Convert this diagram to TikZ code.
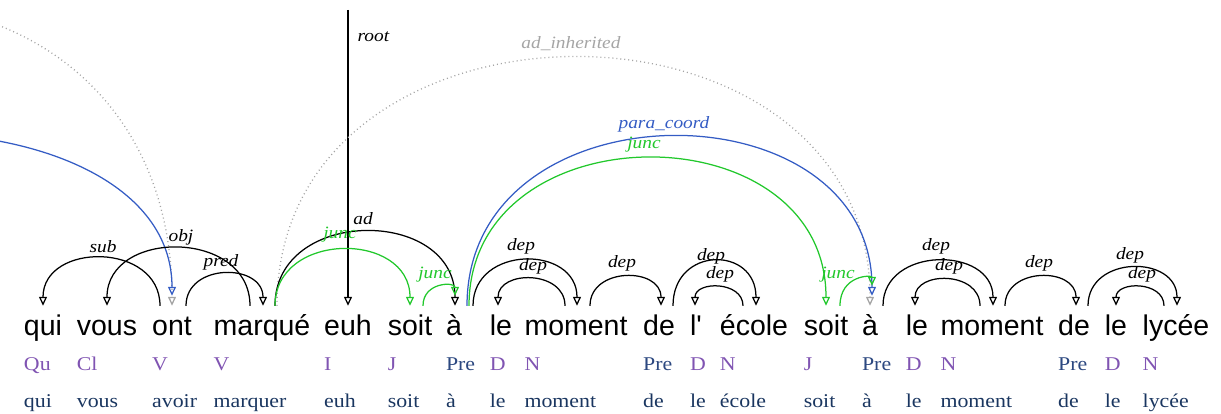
\documentclass[tikz,border=0pt]{standalone}
\usepackage{fontspec}
\usetikzlibrary{arrows.meta}
\newfontfamily\wordfont{Liberation Sans}
\newfontfamily\rowfont[FakeStretch=1.12]{Liberation Serif}
\definecolor{tagc}{RGB}{128,84,178}
\definecolor{prec}{RGB}{44,72,128}
\definecolor{lemc}{RGB}{26,54,96}
\definecolor{juncc}{RGB}{34,200,44}
\definecolor{parac}{RGB}{52,92,196}
\definecolor{inhc}{RGB}{165,165,165}
\tikzset{
  word/.style={font=\wordfont\fontsize{28.5}{30}\selectfont, inner sep=0pt, text height=29pt, text depth=7pt, anchor=base},
  tagtxt/.style={font=\rowfont\fontsize{19.5}{20}\selectfont, text=tagc, inner sep=0pt, anchor=base west},
  pretxt/.style={tagtxt, text=prec},
  lemtxt/.style={font=\rowfont\fontsize{19.5}{20}\selectfont, text=lemc, inner sep=0pt, anchor=base west},
  lbl/.style={font=\rowfont\itshape\fontsize{17.3}{18}\selectfont, inner sep=0pt, anchor=base},
  arc/.style={line width=1.25pt, -{Triangle[open,length=9pt,width=8pt]}},
  inh/.style={arc, color=inhc, line width=1.3pt, dash pattern=on 1pt off 3pt},
}
\begin{document}
\begin{tikzpicture}[x=1pt,y=-1pt]
  \useasboundingbox (0,0) rectangle (1221,414);
  \clip (0,0) rectangle (1221,414);
  % words
  \node[word] (qui) at (43,335) {qui};
  \node[word] (vous) at (107,335) {vous};
  \node[word] (ont) at (172,335) {ont};
  \node[word] (marque) at (262,335) {marqué};
  \node[word] (euh) at (348,335) {euh};
  \node[word] (soitA) at (410,335) {soit};
  \node[word] (aA) at (454,335) {à};
  \node[word] (leA) at (501,335) {le};
  \node[word] (momentA) at (576,335) {moment};
  \node[word] (deA) at (659,335) {de};
  \node[word] (lA) at (696,335) {l'};
  \node[word] (ecole) at (754,335) {école};
  \node[word] (soitB) at (826,335) {soit};
  \node[word] (aB) at (870,335) {à};
  \node[word] (leB) at (917,335) {le};
  \node[word] (momentB) at (992,335) {moment};
  \node[word] (deB) at (1074,335) {de};
  \node[word] (leC) at (1116,335) {le};
  \node[word] (lycee) at (1176,335) {lycée};
  % categories
  \node[tagtxt] (tQu) at ([yshift=-35pt]qui.base west) {Qu};
  \node[tagtxt] (tCl) at ([yshift=-35pt]vous.base west) {Cl};
  \node[tagtxt] (tV) at ([yshift=-35pt]ont.base west) {V};
  \node[tagtxt] (tVb) at ([yshift=-35pt]marque.base west) {V};
  \node[tagtxt] (tI) at ([yshift=-35pt]euh.base west) {I};
  \node[tagtxt] (tJ) at ([yshift=-35pt]soitA.base west) {J};
  \node[pretxt] (tPre) at ([yshift=-35pt]aA.base west) {Pre};
  \node[tagtxt] (tD) at ([yshift=-35pt]leA.base west) {D};
  \node[tagtxt] (tN) at ([yshift=-35pt]momentA.base west) {N};
  \node[pretxt] (tPreb) at ([yshift=-35pt]deA.base west) {Pre};
  \node[tagtxt] (tDb) at ([yshift=-35pt]lA.base west) {D};
  \node[tagtxt] (tNb) at ([yshift=-35pt]ecole.base west) {N};
  \node[tagtxt] (tJb) at ([yshift=-35pt]soitB.base west) {J};
  \node[pretxt] (tPrec) at ([yshift=-35pt]aB.base west) {Pre};
  \node[tagtxt] (tDc) at ([yshift=-35pt]leB.base west) {D};
  \node[tagtxt] (tNc) at ([yshift=-35pt]momentB.base west) {N};
  \node[pretxt] (tPred) at ([yshift=-35pt]deB.base west) {Pre};
  \node[tagtxt] (tDd) at ([yshift=-35pt]leC.base west) {D};
  \node[tagtxt] (tNd) at ([yshift=-35pt]lycee.base west) {N};
  % lemmas
  \node[lemtxt] (mqui) at ([yshift=-72pt]qui.base west) {qui};
  \node[lemtxt] (mvous) at ([yshift=-72pt]vous.base west) {vous};
  \node[lemtxt] (mavoir) at ([yshift=-72pt]ont.base west) {avoir};
  \node[lemtxt] (mmarquer) at ([yshift=-72pt]marque.base west) {marquer};
  \node[lemtxt] (meuh) at ([yshift=-72pt]euh.base west) {euh};
  \node[lemtxt] (msoit) at ([yshift=-72pt]soitA.base west) {soit};
  \node[lemtxt] (ma) at ([yshift=-72pt]aA.base west) {à};
  \node[lemtxt] (mle) at ([yshift=-72pt]leA.base west) {le};
  \node[lemtxt] (mmoment) at ([yshift=-72pt]momentA.base west) {moment};
  \node[lemtxt] (mde) at ([yshift=-72pt]deA.base west) {de};
  \node[lemtxt] (mleb) at ([yshift=-72pt]lA.base west) {le};
  \node[lemtxt] (mecole) at ([yshift=-72pt]ecole.base west) {école};
  \node[lemtxt] (msoitb) at ([yshift=-72pt]soitB.base west) {soit};
  \node[lemtxt] (mab) at ([yshift=-72pt]aB.base west) {à};
  \node[lemtxt] (mlec) at ([yshift=-72pt]leB.base west) {le};
  \node[lemtxt] (mmomentb) at ([yshift=-72pt]momentB.base west) {moment};
  \node[lemtxt] (mdeb) at ([yshift=-72pt]deB.base west) {de};
  \node[lemtxt] (mled) at ([yshift=-72pt]leC.base west) {le};
  \node[lemtxt] (mlycee) at ([yshift=-72pt]lycee.base west) {lycée};
  % arcs coming from outside the picture
  \coordinate (offblue) at (-365,306);
  \coordinate (offgrey) at (-400,306);
  \coordinate (rtop) at (348,10);
  \draw[inh] (offgrey) .. controls +(0,-400) and +(0,-400) .. (ont.north);
  \draw[arc,parac] (offblue) .. controls +(0,-227) and +(0,-217) .. ([yshift=10pt]ont.north);
  \draw[arc] (rtop) -- (euh.north) node[lbl,anchor=base west] at (357,42) {root};
  % qui vous ont marqué
  \draw[arc] ([xshift=-12pt]ont.north) .. controls +(0,-64) and +(0,-64) .. (qui.north) node[lbl] at (103,252) {sub};
  \draw[arc] ([xshift=-12pt]marque.north) .. controls +(0,-77) and +(0,-77) .. (vous.north) node[lbl] at (181,241) {obj};
  \draw[arc] ([xshift=14pt]ont.north) .. controls +(0,-43) and +(0,-43) .. ([xshift=1pt]marque.north) node[lbl] at (221,266) {pred};
  % euh soit à
  \draw[inh] ([xshift=15pt]marque.north) .. controls +(0,-331) and +(0,-331) .. (aB.north) node[lbl,text=inhc] at (571,49) {ad\_inherited};
  \draw[arc] ([xshift=13pt]marque.north) .. controls +(0,-99) and +(0,-99) .. ([xshift=1pt]aA.north) node[lbl] at (363,225) {ad};
  \draw[arc,juncc] ([xshift=13pt]marque.north) .. controls +(0,-75) and +(0,-75) .. (soitA.north) node[lbl] at (340,239) {junc};
  \draw[arc,juncc] ([xshift=13pt]soitA.north) .. controls +(0,-24) and +(0,-14) .. ([xshift=1pt,yshift=10pt]aA.north) node[lbl] at (435,278) {junc};
  \draw[arc,parac] ([xshift=13pt]aA.north) .. controls +(0,-224) and +(0,-214) .. ([xshift=2pt,yshift=10pt]aB.north) node[lbl] at (664,129) {para\_coord};
  \draw[arc,juncc] ([xshift=15pt]aA.north) .. controls +(0,-197) and +(0,-197) .. (soitB.north) node[lbl] at (644,149) {junc};
  \draw[arc,juncc] ([xshift=14pt]soitB.north) .. controls +(0,-31) and +(0,-11) .. ([xshift=2pt,yshift=20pt]aB.north) node[lbl] at (838,278) {junc};
  % le moment de l' école
  \draw[arc] ([xshift=19pt]aA.north) .. controls +(0,-61) and +(0,-61) .. ([xshift=1pt]momentA.north) node[lbl] at (521,251) {dep};
  \draw[arc] ([xshift=-11pt]momentA.north) .. controls +(0,-36) and +(0,-36) .. ([xshift=-3pt]leA.north) node[lbl] at (533,270) {dep};
  \draw[arc] ([xshift=14pt]momentA.north) .. controls +(0,-39) and +(0,-39) .. ([xshift=2pt]deA.north) node[lbl] at (622,268) {dep};
  \draw[arc] ([xshift=14pt]deA.north) .. controls +(0,-60) and +(0,-60) .. ([xshift=2pt]ecole.north) node[lbl] at (711,261) {dep};
  \draw[arc] ([xshift=-11pt]ecole.north) .. controls +(0,-25) and +(0,-25) .. ([xshift=-1pt]lA.north) node[lbl] at (720,278) {dep};
  % le moment de le lycée
  \draw[arc] ([xshift=13pt]aB.north) .. controls +(0,-60) and +(0,-60) .. ([xshift=1pt]momentB.north) node[lbl] at (936,251) {dep};
  \draw[arc] ([xshift=-12pt]momentB.north) .. controls +(0,-35) and +(0,-35) .. ([xshift=-2pt]leB.north) node[lbl] at (949,270) {dep};
  \draw[arc] ([xshift=13pt]momentB.north) .. controls +(0,-39) and +(0,-39) .. ([xshift=2pt]deB.north) node[lbl] at (1039,268) {dep};
  \draw[arc] ([xshift=14pt]deB.north) .. controls +(0,-51) and +(0,-51) .. ([xshift=1pt]lycee.north) node[lbl] at (1130,259) {dep};
  \draw[arc] ([xshift=-12pt]lycee.north) .. controls +(0,-25) and +(0,-25) .. (leC.north) node[lbl] at (1142,278) {dep};
\end{tikzpicture}
\end{document}
